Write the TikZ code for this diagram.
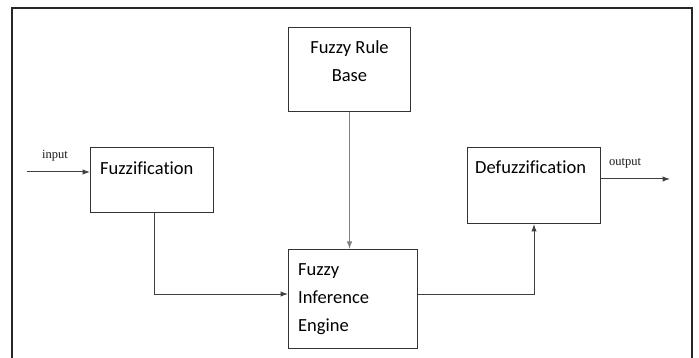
\documentclass[tikz,border=0pt]{standalone}
\usepackage{fontspec}
\setmainfont{Carlito}[Ligatures=NoCommon]
\newfontfamily\tagfont{Liberation Serif}
\usetikzlibrary{arrows.meta,positioning}

\begin{document}
\begin{tikzpicture}[
  x=1pt, y=-1pt,
  block/.style={rectangle, draw=black!80, line width=1pt, inner sep=0pt, anchor=north west},
  caption/.style={font=\fontsize{18.5}{28}\selectfont, inner sep=0pt, text=black},
  tag/.style={font=\tagfont\fontsize{12.5}{14}\selectfont, inner sep=0pt, text=black!90},
  flow/.style={draw=black!75, line width=1pt, -{Latex[length=7.5pt,width=5.5pt]}}
]
  \useasboundingbox (0,0) rectangle (699,358);

  % open frame round the whole scheme
  \draw[black!85, line width=1.1pt] (12,358) -- (12,8) -- (692,8) -- (692,358);

  % the four blocks
  \node[block, minimum width=122pt, minimum height=84pt] (rules) at (288,27) {};
  \node[block, minimum width=123pt, minimum height=65pt] (fuzz) at (90,147) {};
  \node[block, minimum width=129pt, minimum height=99pt] (engine) at (288,249) {};
  \node[block, minimum width=133pt, minimum height=76pt] (defuzz) at (467,147) {};

  % block texts
  \node[caption, align=center, yshift=-34pt] (rulestext) at (rules.north) {Fuzzy Rule\\Base};
  \node[caption, anchor=west] (fuzztext) at ([xshift=10pt, yshift=-21pt]fuzz.north west) {Fuzzification};
  \node[caption, anchor=west, align=left] (enginetext) at ([xshift=10pt]engine.west) {Fuzzy\\Inference\\Engine};
  \node[caption, anchor=west] (defuzztext) at ([xshift=8pt, yshift=-20pt]defuzz.north west) {Defuzzification};

  % in and out
  \coordinate (in) at (27,172);
  \coordinate (out) at (670,179);
  \node[tag] (intag) at (55,156) {input};
  \node[tag] (outtag) at (625,163) {output};
  \draw[flow] (in) -- (in -| fuzz.west);
  \draw[flow] (out -| defuzz.east) -- (out);

  % connections between blocks
  \draw[flow] ([xshift=2pt]fuzz.south) |- ([yshift=5pt]engine.west);
  \draw[flow, draw=black!50] (rules.south) -- (rules.south |- engine.north);
  \draw[flow] ([yshift=5pt]engine.east) -| (defuzz.south);
\end{tikzpicture}
\end{document}
